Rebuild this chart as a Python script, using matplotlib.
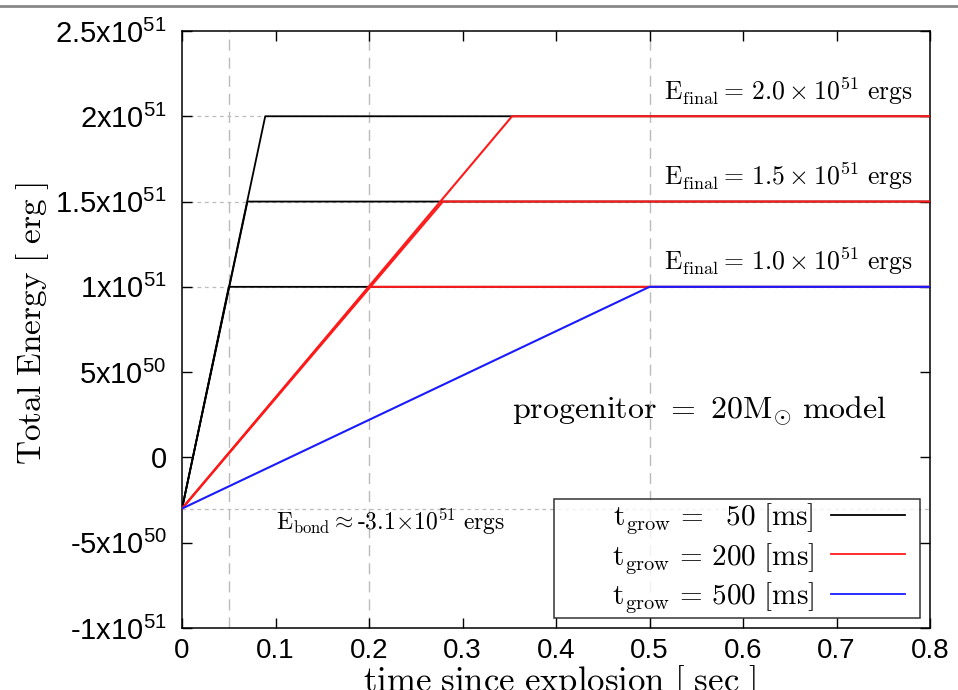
import matplotlib
matplotlib.use("Agg")
import matplotlib.pyplot as plt
from matplotlib.lines import Line2D
from matplotlib.font_manager import FontProperties
from matplotlib.legend_handler import HandlerLine2D

plt.rcParams['font.family'] = ['Liberation Sans', 'DejaVu Sans']
plt.rcParams['mathtext.fontset'] = 'custom'
plt.rcParams['mathtext.rm'] = 'Liberation Sans'
plt.rcParams['mathtext.it'] = 'Liberation Sans:italic'
plt.rcParams['mathtext.bf'] = 'Liberation Sans:bold'

# Binding energy of the progenitor at t = 0 [erg]
e_bond = -3.0e50
# Final explosion energies [erg]
e_final = [1.0e51, 1.5e51, 2.0e51]

# Time [s] at which each run reaches its final energy
t_reach_50 = [0.050, 0.070, 0.089]
t_reach_200 = [0.200, 0.279, 0.353]
t_reach_500 = [0.500]

t_end = 0.8
guide_times = [0.05, 0.2, 0.5]

series = [
    ("50", t_reach_50, "black", 1.3),
    ("200", t_reach_200, "#ff1a1a", 1.5),
    ("500", t_reach_500, "#1a1aff", 1.5),
]

serif = dict(math_fontfamily="cm")


class PaddedLineHandler(HandlerLine2D):
    """Legend line sample that leaves a gap on its right side."""

    def __init__(self, right_pad=0.4, **kw):
        super().__init__(**kw)
        self.right_pad = right_pad

    def create_artists(self, legend, orig_handle, xdescent, ydescent,
                       width, height, fontsize, trans):
        return super().create_artists(legend, orig_handle, xdescent, ydescent,
                                      width - self.right_pad * fontsize,
                                      height, fontsize, trans)


fig = plt.figure(figsize=(9.58, 6.90), dpi=100)
ax = fig.add_axes([0.19, 0.0899, 0.7808, 0.8652])

# guide lines
for t in guide_times:
    ax.axvline(t, color="#bbbbbb", lw=1.0, ls=(0, (8, 5)), zorder=1)
for e in e_final + [e_bond]:
    ax.axhline(e, color="#bbbbbb", lw=0.9, ls=(0, (3, 3)), zorder=1)

handles = []
for name, reach, color, lw in series:
    for t_r, e in zip(reach, e_final):
        ax.plot([0.0, t_r, t_end], [e_bond, e, e], color=color, lw=lw, zorder=3)
    pad = r"\enspace" if len(name) == 2 else ""
    lab = (r"$\qquad\,\mathrm{t_{grow}}\,=\," + pad + r"\mathrm{" + name
           + r"\ [ms]}$")
    handles.append(Line2D([], [], color=color, lw=1.3, label=lab))

ax.set_xlim(0, 0.8)
ax.set_ylim(-1e51, 2.5e51)

xticks = [0, 0.1, 0.2, 0.3, 0.4, 0.5, 0.6, 0.7, 0.8]
xtick_labels = ["0", "0.1", "0.2", "0.3", "0.4", "0.5", "0.6", "0.7", "0.8"]
yticks = [-1e51, -5e50, 0, 5e50, 1e51, 1.5e51, 2e51, 2.5e51]
ytick_labels = [r"-1x10$^{51}$", r"-5x10$^{50}$", "0",
                r"5x10$^{50}$", r"1x10$^{51}$",
                r"1.5x10$^{51}$", r"2x10$^{51}$",
                r"2.5x10$^{51}$"]
ax.set_xticks(xticks)
ax.set_xticklabels(xtick_labels, fontsize=20)
ax.set_yticks(yticks)
ax.set_yticklabels(ytick_labels, fontsize=21)
ax.tick_params(direction="in", length=7, width=1.0, top=True, right=True)
ax.tick_params(axis="y", pad=11)
ax.tick_params(axis="x", pad=7)
for s in ax.spines.values():
    s.set_linewidth(1.1)

ax.set_xlabel(r"$\mathrm{time\ since\ explosion\ [\ sec\ ]}$", fontsize=25, **serif)
ax.xaxis.set_label_coords(0.505, -0.058)
ax.set_ylabel(r"$\mathrm{Total\ Energy\ [\ erg\ ]}$", fontsize=24, **serif)
ax.yaxis.set_label_coords(-0.175, 0.51)

for e in e_final:
    ax.text(0.782, e + 0.15e51,
            r"$\mathrm{E_{final}}{=}\,\mathrm{%.1f}\times\mathrm{10^{51}\ ergs}$" % (e / 1e51),
            fontsize=18.5, ha="right", va="center", **serif)

ax.text(0.553, 0.267e51, r"$\mathrm{progenitor}\ =\ \mathrm{20M_{\odot}\ model}$",
        fontsize=23, ha="center", va="center", **serif)
ax.text(0.1, -3.8e50, r"$\mathrm{E_{bond}}{\approx}\mathrm{\text{-}3.1{\times}10^{51}\ ergs}$",
        fontsize=17, ha="left", va="center", **serif)

leg = ax.legend(handles=handles, loc="lower right", markerfirst=False,
                prop=FontProperties(size=21, math_fontfamily="cm"),
                frameon=True, fancybox=False, edgecolor="black",
                handlelength=2.93, handletextpad=0.6, borderaxespad=0.35,
                labelspacing=0.15, borderpad=0.1,
                handler_map={Line2D: PaddedLineHandler(right_pad=0.42)})
leg.get_frame().set_linewidth(1.1)
for txt in leg.get_texts():
    txt.set_ha("right")

# page rule along the top
fig.add_artist(Line2D([0, 1], [1 - 6 / 690, 1 - 6 / 690], color="#888888",
                      lw=2.0, transform=fig.transFigure))

fig.savefig("out.png", dpi=100)
